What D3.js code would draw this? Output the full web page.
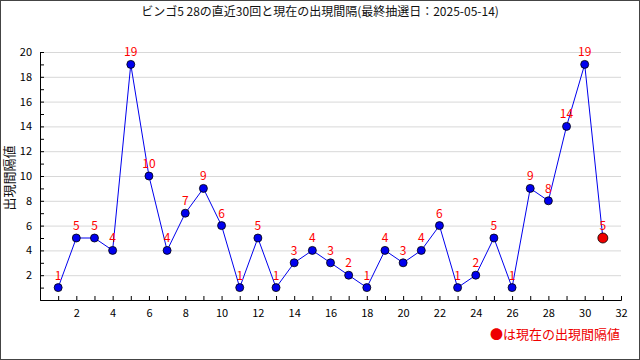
<!DOCTYPE html>
<html>
<head>
    <meta charset="utf-8">
    <script src="https://cdn.jsdelivr.net/npm/d3@7"></script>
    <style>
        body { margin: 0; background: #fff; }
        svg text { font-family: "Noto Sans CJK JP", "DejaVu Sans", sans-serif; }
    </style>
</head>
<body>
    <svg width="640" height="360" id="mainsvg"></svg>
    <script>
        // data
        const titleText = 'ビンゴ5 28の直近30回と現在の出現間隔(最終抽選日：2025-05-14)';
        const draws = d3.range(1, 32);
        const gaps = [1, 5, 5, 4, 19, 10, 4, 7, 9, 6, 1, 5, 1, 3, 4, 3, 2, 1, 4, 3, 4, 6, 1, 2, 5, 1, 9, 8, 14, 19, 5];
        const xTicks = [2, 4, 6, 8, 10, 12, 14, 16, 18, 20, 22, 24, 26, 28, 30, 32];
        const yTicks = [2, 4, 6, 8, 10, 12, 14, 16, 18, 20];

        const svg = d3.select('svg');
        const width = +svg.attr('width');
        const height = +svg.attr('height');
        const margin = { top: 52, right: 19, bottom: 60, left: 40 };
        const innerWidth = width - margin.left - margin.right;
        const innerHeight = height - margin.top - margin.bottom;

        const data = draws.map((d, i) => ({ n: d, v: gaps[i] }));

        // frame
        svg.append('rect').attr('x', 0.5).attr('y', 0.5)
            .attr('width', width - 1).attr('height', height - 1)
            .attr('fill', 'white').attr('stroke', '#444');

        svg.append('text').text(titleText)
            .attr('x', width / 2).attr('y', 16)
            .attr('text-anchor', 'middle').attr('font-size', '12px').attr('fill', '#111');

        const g = svg.append('g').attr('transform', `translate(${margin.left}, ${margin.top})`);

        const xScale = d3.scaleLinear().domain([0, 32]).range([0, innerWidth]);
        const yScale = d3.scaleLinear().domain([0, 20]).range([innerHeight, 0]);

        // gridlines
        g.selectAll('.grid').data(yTicks).enter().append('line')
            .attr('class', 'grid')
            .attr('x1', 0).attr('x2', innerWidth)
            .attr('y1', d => yScale(d) + 0.5).attr('y2', d => yScale(d) + 0.5)
            .attr('stroke', '#d8d8d8');

        // axes (inward ticks, labels only on even values)
        const xAxis = d3.axisBottom(xScale).tickValues(d3.range(1, 33))
            .tickSize(-4).tickPadding(8)
            .tickFormat(d => xTicks.includes(d) ? d : '');
        const yAxis = d3.axisLeft(yScale).tickValues(d3.range(1, 21))
            .tickSize(-4).tickPadding(8)
            .tickFormat(d => yTicks.includes(d) ? d : '');

        const xAxisGroup = g.append('g').attr('transform', `translate(0, ${innerHeight})`).call(xAxis);
        const yAxisGroup = g.append('g').call(yAxis);
        [xAxisGroup, yAxisGroup].forEach(ag => {
            ag.select('.domain').attr('stroke', '#000');
            ag.selectAll('.tick line').attr('stroke', '#000');
            ag.selectAll('.tick text').filter(function () { return this.textContent === ''; }).remove();
            ag.selectAll('.tick text').attr('font-size', '11px').attr('fill', '#000')
                .attr('font-family', '"DejaVu Sans", sans-serif');
        });
        xAxisGroup.selectAll('.tick text').attr('dy', '1em').attr('y', 6);

        // y title
        svg.append('text').text('出現間隔値')
            .attr('transform', `translate(14, ${178}) rotate(-90)`)
            .attr('text-anchor', 'middle').attr('font-size', '13px').attr('fill', '#111');

        // line
        const line = d3.line().x(d => xScale(d.n)).y(d => yScale(d.v));
        g.append('path').datum(data).attr('d', line)
            .attr('fill', 'none').attr('stroke', '#0000ee').attr('stroke-width', 1);

        // points
        const last = data.length - 1;
        g.selectAll('.pt').data(data).enter().append('circle')
            .attr('class', 'pt')
            .attr('cx', d => xScale(d.n)).attr('cy', d => yScale(d.v))
            .attr('r', (d, i) => i === last ? 5 : 4)
            .attr('fill', (d, i) => i === last ? '#ee0000' : '#0000ee')
            .attr('stroke', '#000').attr('stroke-width', 0.8);

        // value labels
        g.selectAll('.vl').data(data).enter().append('text')
            .attr('class', 'vl')
            .attr('x', d => xScale(d.n)).attr('y', d => yScale(d.v) - 8)
            .attr('text-anchor', 'middle').attr('font-size', '12px')
            .attr('font-family', '"DejaVu Sans", sans-serif')
            .attr('fill', '#ff0000').text(d => d.v);

        // legend
        svg.append('text').text('●は現在の出現間隔値')
            .attr('x', 620).attr('y', 339)
            .attr('text-anchor', 'end').attr('font-size', '13px').attr('fill', '#ee0000');
    </script>
</body>
</html>
